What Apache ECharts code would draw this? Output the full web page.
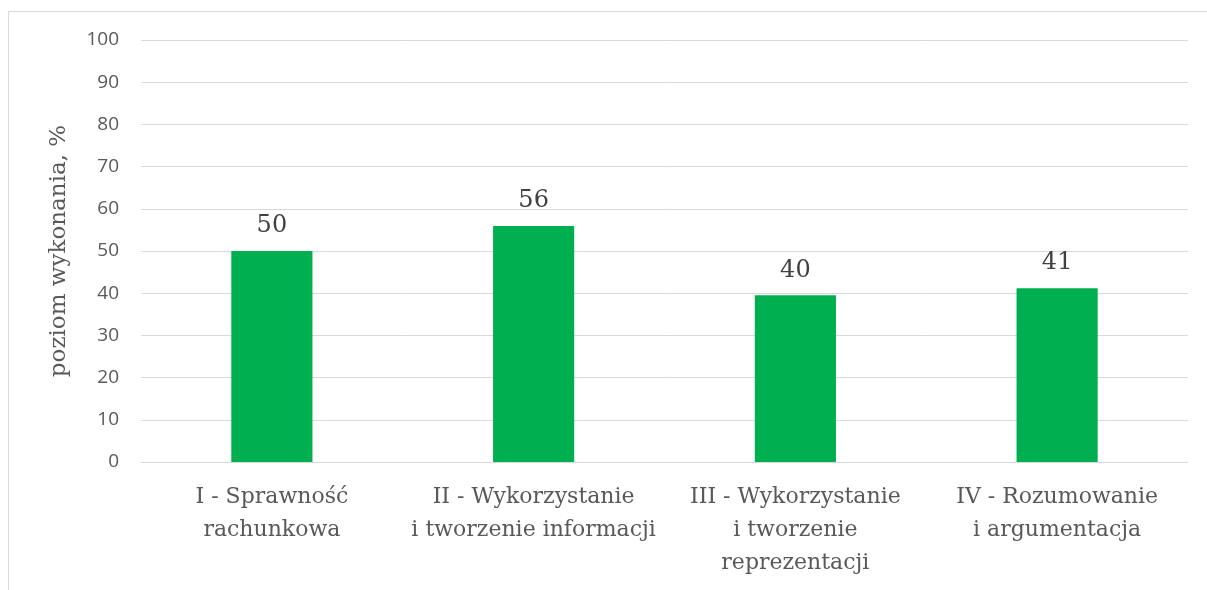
<!DOCTYPE html>
<html>
<head>
<meta charset="utf-8">
<script src="https://cdn.jsdelivr.net/npm/echarts@6/dist/echarts.min.js"></script>
<style>
  html, body { margin: 0; padding: 0; background: #fff; }
  #chart { width: 1207px; height: 590px; }
</style>
</head>
<body>
<div id="chart"></div>
<script>
  const categories = [
    'I - Sprawność\nrachunkowa',
    'II - Wykorzystanie\ni tworzenie informacji',
    'III - Wykorzystanie\ni tworzenie\nreprezentacji',
    'IV - Rozumowanie\ni argumentacja'
  ]
  const values = [50, 55.9, 39.5, 41.2]
  const yTicks = {min: 0, max: 100, interval: 10}

  let chart = echarts.init(document.getElementById('chart'))
  chart.setOption({
    animation: false,
    graphic: [{
      type: 'rect',
      shape: {x: 8.5, y: 11.5, width: 1300, height: 700},
      style: {fill: 'none', stroke: '#d9d9d9', lineWidth: 1},
      silent: true
    }],
    grid: {left: 141, right: 19, top: 40, bottom: 128},
    xAxis: {
      type: 'category',
      data: categories,
      axisTick: {show: false},
      axisLine: {lineStyle: {color: '#d9d9d9', width: 1}},
      axisLabel: {
        color: '#595959',
        fontFamily: 'DejaVu Serif',
        fontSize: 22,
        lineHeight: 33,
        margin: 19,
        interval: 0
      }
    },
    yAxis: {
      type: 'value',
      min: yTicks.min, max: yTicks.max, interval: yTicks.interval,
      name: 'poziom wykonania, %',
      nameLocation: 'middle',
      nameGap: 70,
      nameTextStyle: {color: '#595959', fontFamily: 'DejaVu Serif', fontSize: 23},
      axisLine: {show: false},
      axisTick: {show: false},
      splitLine: {lineStyle: {color: '#d9d9d9', width: 1}},
      axisLabel: {color: '#595959', fontFamily: 'Open Sans', fontSize: 19, margin: 22}
    },
    series: [{
      type: 'bar',
      data: values,
      barWidth: '31%',
      itemStyle: {color: '#00b050'},
      label: {
        show: true,
        position: 'top',
        distance: 13,
        color: '#404040',
        fontFamily: 'DejaVu Serif',
        fontSize: 24,
        formatter: p => Math.round(p.value)
      }
    }]
  })
</script>
</body>
</html>
